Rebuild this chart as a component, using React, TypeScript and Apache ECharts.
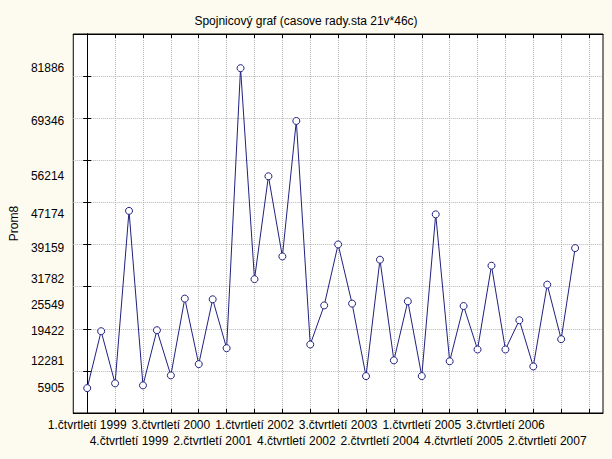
import { useEffect, useRef } from 'react';
import * as echarts from 'echarts';

const quarters = [
  '1.čtvrtletí 1999', '2.čtvrtletí 1999', '3.čtvrtletí 1999', '4.čtvrtletí 1999',
  '1.čtvrtletí 2000', '2.čtvrtletí 2000', '3.čtvrtletí 2000', '4.čtvrtletí 2000',
  '1.čtvrtletí 2001', '2.čtvrtletí 2001', '3.čtvrtletí 2001', '4.čtvrtletí 2001',
  '1.čtvrtletí 2002', '2.čtvrtletí 2002', '3.čtvrtletí 2002', '4.čtvrtletí 2002',
  '1.čtvrtletí 2003', '2.čtvrtletí 2003', '3.čtvrtletí 2003', '4.čtvrtletí 2003',
  '1.čtvrtletí 2004', '2.čtvrtletí 2004', '3.čtvrtletí 2004', '4.čtvrtletí 2004',
  '1.čtvrtletí 2005', '2.čtvrtletí 2005', '3.čtvrtletí 2005', '4.čtvrtletí 2005',
  '1.čtvrtletí 2006', '2.čtvrtletí 2006', '3.čtvrtletí 2006', '4.čtvrtletí 2006',
  '1.čtvrtletí 2007', '2.čtvrtletí 2007', '3.čtvrtletí 2007', '4.čtvrtletí 2007',
];

const prom8 = [
  5905, 19422, 7034, 48000, 6560, 19658, 8929, 27165, 11605, 27000, 15395, 81886,
  31782, 56214, 37184, 69346, 16270, 25549, 40026, 25980, 8763, 36400, 12500, 26526,
  8763, 47174, 12281, 25400, 15087, 34980, 15087, 22026, 11060, 30480, 17526, 39159,
];

const yLabelValues = [5905, 12281, 19422, 25549, 31782, 39159, 47174, 56214, 69346, 81886];
const yGridValues = [0, 10000, 20000, 30000, 40000, 50000, 60000, 70000, 80000, 90000];
const xTickPositions = [0, 2, 4, 6, 8, 10, 12, 14, 16, 18, 20, 22, 24, 26, 28, 30, 32, 34, 36];
const xLabelRow1 = [0, 6, 12, 18, 24, 30];
const xLabelRow2 = [3, 9, 15, 21, 27, 33];

export default function App() {
  const ref = useRef<HTMLDivElement>(null);
  useEffect(() => {
    const chart = echarts.init(ref.current!, null, { renderer: 'svg' });
    const font = '"Liberation Sans", Arial, sans-serif';
    const navy = '#202080';
    const tickStyle = { show: true, inside: true, length: 4, lineStyle: { color: '#000', width: 1 } };
    const gridLine = { show: true, lineStyle: { color: '#b4b4b4', type: 'dotted', width: 1 } };
    const labelStyle = { fontSize: 12, color: '#000', fontFamily: font };
    chart.setOption({
      animation: false,
      backgroundColor: '#fdfbef',
      textStyle: { fontFamily: font },
      title: {
        text: 'Spojnicový graf (casove rady.sta 21v*46c)',
        left: 'center',
        top: 10,
        textStyle: { fontSize: 12, fontWeight: 'normal', color: '#000', fontFamily: font },
      },
      grid: {
        left: 71, right: 9, top: 34, bottom: 46,
        show: true, backgroundColor: '#ffffff', borderColor: '#000', borderWidth: 1,
        containLabel: false,
      },
      xAxis: [
        {
          type: 'value', min: -1, max: 37, position: 'bottom',
          axisLine: { show: true, lineStyle: { color: '#000' } },
          axisTick: { ...tickStyle, customValues: xTickPositions },
          splitLine: gridLine,
          axisLabel: {
            ...labelStyle, margin: 6, customValues: xLabelRow1,
            formatter: (v: number) => quarters[v] ?? '',
          },
        },
        {
          type: 'value', min: -1, max: 37, position: 'bottom', offset: 16,
          axisLine: { show: false },
          axisTick: { show: false },
          splitLine: { show: false },
          axisLabel: {
            ...labelStyle, margin: 6, customValues: xLabelRow2,
            formatter: (v: number) => quarters[v] ?? '',
          },
        },
        {
          type: 'value', min: -1, max: 37, position: 'top',
          axisLine: { show: true, lineStyle: { color: '#000' } },
          axisTick: { ...tickStyle, customValues: xTickPositions },
          splitLine: { show: false },
          axisLabel: { show: false },
        },
      ],
      yAxis: [
        {
          type: 'value', min: 0, max: 90000, position: 'left',
          name: 'Prom8', nameLocation: 'middle', nameGap: 52, nameRotate: 90,
          nameTextStyle: { fontSize: 12, color: '#000', fontFamily: font },
          axisLine: { show: true, lineStyle: { color: '#000' } },
          axisTick: { ...tickStyle, customValues: yGridValues },
          splitLine: gridLine,
          axisLabel: {
            ...labelStyle, margin: 9, customValues: yLabelValues,
            formatter: (v: number) => String(v),
          },
        },
        {
          type: 'value', min: 0, max: 90000, position: 'right',
          axisLine: { show: true, lineStyle: { color: '#000' } },
          axisTick: { ...tickStyle, customValues: yGridValues },
          splitLine: { show: false },
          axisLabel: { show: false },
        },
      ],
      series: [
        {
          type: 'line',
          xAxisIndex: 0,
          yAxisIndex: 0,
          data: prom8.map((v, i) => [i, v]),
          symbol: 'circle',
          symbolSize: 7,
          showAllSymbol: true,
          lineStyle: { color: navy, width: 1 },
          itemStyle: { color: '#ffffff', borderColor: navy, borderWidth: 1 },
          emphasis: { disabled: true },
        },
      ],
    });
    return () => chart.dispose();
  }, []);
  return <div ref={ref} style={{ position: 'fixed', left: 0, top: 0, width: 612, height: 459 }} />;
}
